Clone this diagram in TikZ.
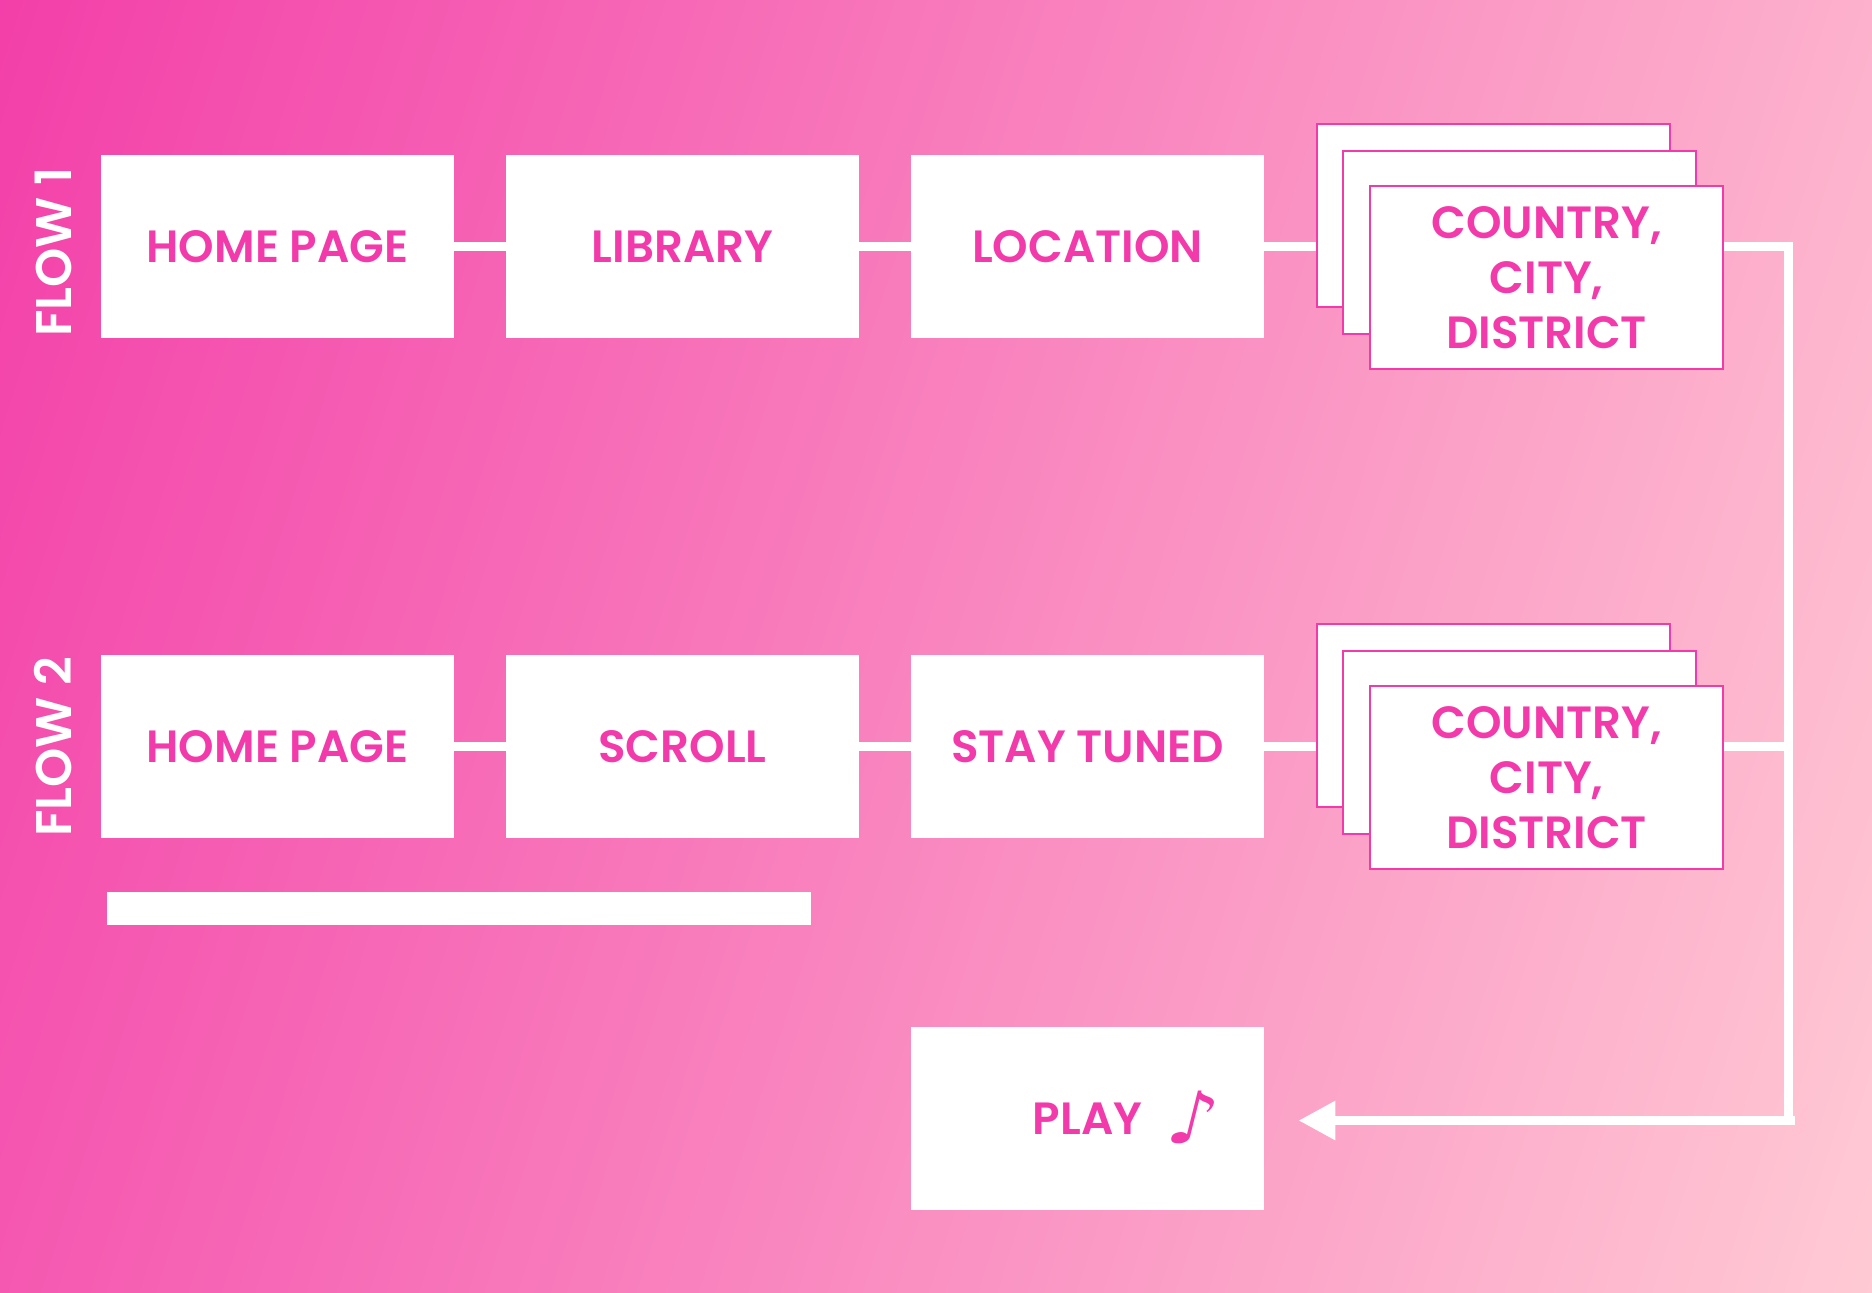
\documentclass[tikz,border=0pt]{standalone}
\usepackage{fontspec}
\setmainfont{Poppins}
\newfontfamily\boxfont{Poppins SemiBold}
\newfontfamily\notefont[FakeSlant=0.25]{DejaVu Sans}
\usetikzlibrary{arrows.meta}
\definecolor{flowpink}{HTML}{F23AAA}
\definecolor{bgstart}{HTML}{F33FA9}
\definecolor{bgend}{HTML}{FFCAD4}
\tikzset{
  flowbox/.style={fill=white,text=flowpink,minimum width=176.5pt,minimum height=91.5pt,inner sep=0pt,
    font=\boxfont\fontsize{22.6}{27.5}\selectfont,text height=15.8pt,text depth=0pt,align=center},
  stackbox/.style={flowbox,draw=flowpink,line width=1.1pt,minimum width=176.7pt,minimum height=91.4pt,text height=,text depth=},
  flowline/.style={draw=white,line width=4.5pt},
  flowlabel/.style={text=white,rotate=90,anchor=west,inner sep=0pt,font=\boxfont\fontsize{25}{26}\selectfont}
}
\begin{document}
\begin{tikzpicture}[x=1pt,y=1pt,node distance=202.5pt]
\useasboundingbox (0,0) rectangle (936,-646);
\clip (0,0) rectangle (936,-646);
\shade[bottom color=bgstart,top color=bgend,shading angle=-107.6] (468,-323) ++(-543.75,-543.75) rectangle ++(1087.5,1087.5);

\node[flowbox]                  (H1)                 at (138.75,-123.25) {HOME PAGE};
\node[flowbox]                  (L1) [right of=H1]   {LIBRARY};
\node[flowbox]                  (C1) [right of=L1]   {LOCATION};
\node[flowbox]                  (H2) [below of=H1,node distance=250pt]  {HOME PAGE};
\node[flowbox]                  (S2) [right of=H2]   {SCROLL};
\node[flowbox]                  (T2) [right of=S2]   {STAY TUNED};
\node[flowbox]                  (P)  [below of=T2,node distance=186pt]  {\hspace*{34pt}PLAY\hspace{11pt}\raisebox{-4.5pt}{\notefont\fontsize{36}{36}\selectfont ♪}};
\node[fill=white,minimum width=352pt,minimum height=16.5pt,inner sep=0pt] (B) [below of=H2,node distance=81pt,xshift=90.75pt] {};

\node[stackbox] (A1) [right of=C1,xshift=0.5pt,yshift=15.6pt] {};
\node[stackbox] (D1) [right of=C1,xshift=13.5pt,yshift=2.1pt]  {};
\node[stackbox] (E1) [right of=C1,xshift=27pt,yshift=-15.4pt] {COUNTRY,\\CITY,\\DISTRICT};
\node[stackbox] (A2) [right of=T2,xshift=0.5pt,yshift=15.6pt] {};
\node[stackbox] (D2) [right of=T2,xshift=13.5pt,yshift=2.1pt]  {};
\node[stackbox] (E2) [right of=T2,xshift=27pt,yshift=-15.4pt] {COUNTRY,\\CITY,\\DISTRICT};

\node[flowlabel] (F1) at ([xshift=-23.75pt,yshift=0.6pt]H1.south west) {FLOW 1};
\node[flowlabel] (F2) at ([xshift=-23.75pt,yshift=0.6pt]H2.south west) {FLOW 2};

\coordinate (K) at (894.25,-560.25);

\path[flowline] (H1) -- (L1);
\path[flowline] (L1) -- (C1);
\path[flowline] (H2) -- (S2);
\path[flowline] (S2) -- (T2);
\path[flowline] (C1.east) -- (C1.east -| A1.west);
\path[flowline] (T2.east) -- (T2.east -| A2.west);
\path[flowline] (C1 -| E1.east) -| (K);
\path[flowline] (T2 -| E2.east) -- (T2 -| K);
\path[flowline,-{Triangle[length=18.5pt,width=18.5pt]},shorten <=-3.25pt,shorten >=17pt] (K) -- (K -| P.east);
\end{tikzpicture}
\end{document}
